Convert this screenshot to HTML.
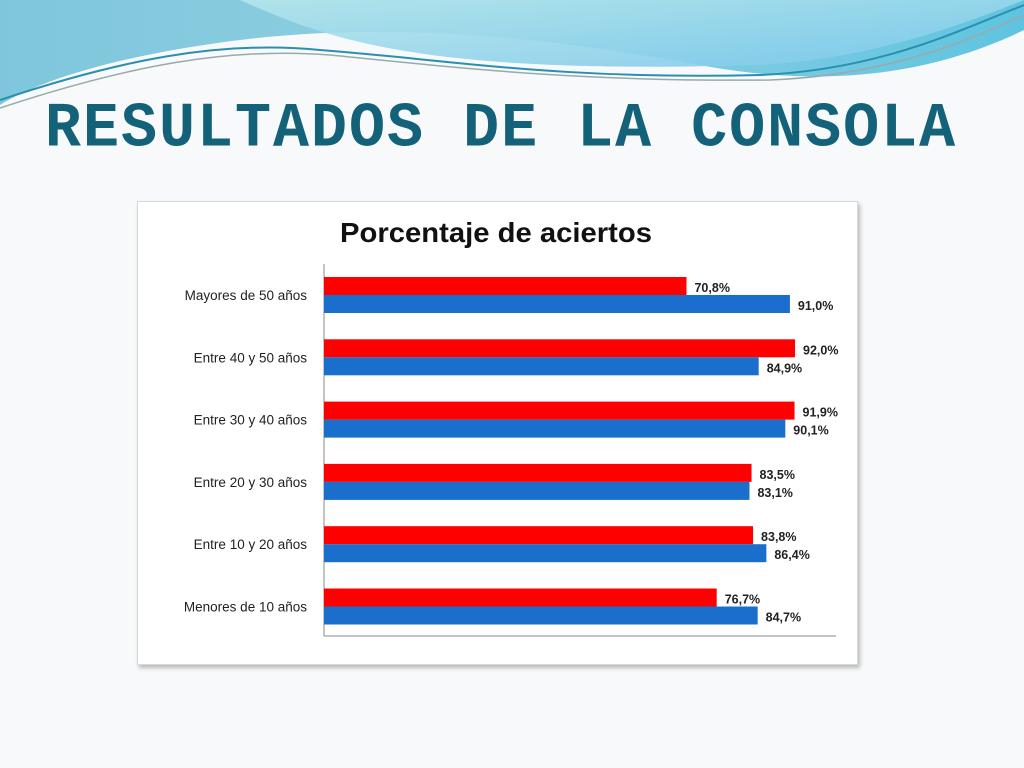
<!DOCTYPE html>
<html><head><meta charset="utf-8"><style>
body{margin:0;width:1024px;height:768px;overflow:hidden;background:#f7f9fa;font-family:"Liberation Sans",sans-serif;position:relative}
#title{position:absolute;left:45px;top:94px;font-family:"Liberation Mono",monospace;font-weight:bold;font-size:60px;letter-spacing:2px;color:#14627a;transform:scaleY(1.05);transform-origin:top left;white-space:nowrap}
#card{position:absolute;left:137px;top:201px;width:719px;height:462px;background:#fff;border:1px solid #d9d9d9;box-shadow:2px 3px 4px rgba(0,0,0,0.25)}
</style></head><body>
<svg width="1024" height="200" style="position:absolute;left:0;top:0">
<defs>
<linearGradient id="g1" x1="0" y1="0" x2="1" y2="0"><stop offset="0" stop-color="#7fc6dc"/><stop offset="0.5" stop-color="#8fd0e2"/><stop offset="1" stop-color="#5fc4e0"/></linearGradient>
<linearGradient id="g2" x1="0" y1="0" x2="1" y2="1"><stop offset="0" stop-color="#b5e6ec"/><stop offset="1" stop-color="#7cc8ea"/></linearGradient>
</defs>
<path d="M0,0 H1024 V30 C900,90 780,80 700,65 C560,40 400,20 240,40 C120,55 40,80 0,105 Z" fill="url(#g1)"/>
<path d="M240,0 C330,40 420,75 760,65 C860,60 950,30 1024,0 Z" fill="url(#g2)" opacity="0.9"/>
<path d="M0,100 C120,60 220,40 320,50 C450,60 560,80 760,75 C880,70 960,30 1024,5" fill="none" stroke="#2a8fb0" stroke-width="2"/>
<path d="M0,108 C130,65 230,47 330,55 C460,68 580,82 770,80 C890,75 970,40 1024,15" fill="none" stroke="#9aa" stroke-width="1.5"/>
</svg>
<div id="title">RESULTADOS DE LA CONSOLA</div>
<div id="card"></div>
<svg id="chart" width="1024" height="768" style="position:absolute;left:0;top:0">
<text x="496" y="242" text-anchor="middle" font-size="28" font-weight="bold" fill="#111" font-family="Liberation Sans, sans-serif" textLength="312" lengthAdjust="spacingAndGlyphs">Porcentaje de aciertos</text>
</svg>
<script>
const categories=["Mayores de 50 años","Entre 40 y 50 años","Entre 30 y 40 años","Entre 20 y 30 años","Entre 10 y 20 años","Menores de 10 años"];
const redValues=[70.8,92.0,91.9,83.5,83.8,76.7];
const blueValues=[91.0,84.9,90.1,83.1,86.4,84.7];
const svg=document.getElementById('chart');
const NS='http://www.w3.org/2000/svg';
const x0=324,x100=836,yTop=264,step=62.3;
function xs(v){return x0+(x100-x0)*v/100;}
function yc(i){return yTop+31+i*step;}
function mk(t,a){const e=document.createElementNS(NS,t);for(const k in a)e.setAttribute(k,a[k]);svg.appendChild(e);return e;}
const ax=mk('line',{x1:x0,y1:yTop,x2:x0,y2:636,stroke:'#888','stroke-width':1});


const bx=mk('line',{x1:x0,y1:636,x2:836,y2:636,stroke:'#888','stroke-width':1});


const fmt=v=>v.toFixed(1).replace('.',',')+'%';
categories.forEach((c,i)=>{
 const y=yc(i);
 const l=mk('text',{x:307,y:y+5,'text-anchor':'end','font-size':13.5,fill:'#222'});
 l.textContent=c;
 
 
 const r=mk('rect',{x:x0,y:y-18,width:xs(redValues[i])-x0,height:18,fill:'#ff0000'});
 
 
 const b=mk('rect',{x:x0,y:y,width:xs(blueValues[i])-x0,height:18,fill:'#1a6fcc'});
 
 
 const t1=mk('text',{x:xs(redValues[i])+8,y:y-3,'font-size':12.5,'font-weight':'bold',fill:'#222'});
 t1.textContent=fmt(redValues[i]);
 
 
 const t2=mk('text',{x:xs(blueValues[i])+8,y:y+15,'font-size':12.5,'font-weight':'bold',fill:'#222'});
 t2.textContent=fmt(blueValues[i]);
 
 
});
</script>
</body></html>
